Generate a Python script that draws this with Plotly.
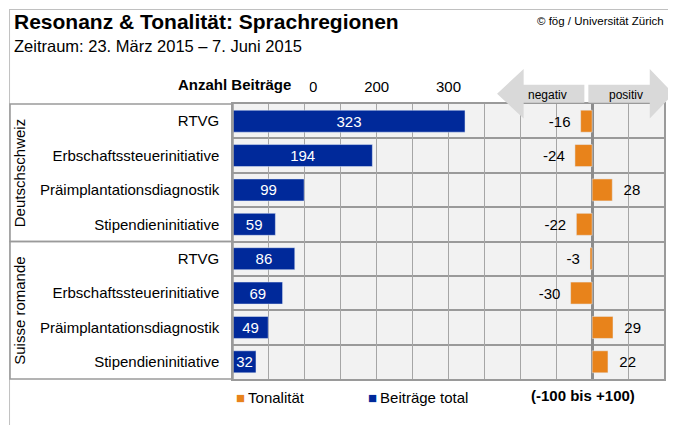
import plotly.graph_objects as go

# ---------------- data ----------------
regions = ["Deutschschweiz", "Suisse romande"]
topics = ["RTVG", "Erbschaftssteuerinitiative", "Präimplantationsdiagnostik", "Stipendieninitiative"]
beitraege_deutschschweiz = [323, 194, 99, 59]
beitraege_romandie = [86, 69, 49, 32]
tonalitaet_deutschschweiz = [-16, -24, 28, -22]
tonalitaet_romandie = [-3, -30, 29, 22]
count_tick_labels = [100, 200, 300]

# ---------------- derived ----------------
categories = topics + topics
counts = beitraege_deutschschweiz + beitraege_romandie
tone = tonalitaet_deutschschweiz + tonalitaet_romandie
rows = list(range(len(categories)))
tone_text = [(f"{v}\u00a0\u2009" if v < 0 else f"\u00a0\u00a0{v}") for v in tone]

FONT = "Liberation Sans, Arial, sans-serif"
BLUE = "#00299a"
ORANGE = "#e8831b"
GRID = "#a6a6a6"

# page offset (browser body margin)
OFF = 8
PAGE_W, PAGE_H = 676, 425
W, H = PAGE_W - OFF, PAGE_H - OFF
# plot area in page pixels
PL, PR, PT, PB = 233, 666, 104, 379
L, R, T, B = PL - OFF, PR - OFF, PT - OFF, PB - OFF


def px_x(p):  # page pixel -> paper x
    return (p - PL) / (PR - PL)


def px_y(p):  # page pixel -> paper y
    return (PB - p) / (PB - PT)


fig = go.Figure()
fig.add_bar(
    name="Beiträge total", x=counts, y=rows, orientation="h",
    xaxis="x", yaxis="y", marker=dict(color=BLUE), width=0.64,
    text=counts, textposition="inside", insidetextanchor="middle", textangle=0,
    textfont=dict(color="white", size=15, family=FONT),
    showlegend=False, cliponaxis=False, hoverinfo="x+y",
)
fig.add_bar(
    name="Tonalität", x=tone, y=rows, orientation="h",
    xaxis="x2", yaxis="y", marker=dict(color=ORANGE), width=0.64,
    text=tone_text, textposition="outside", textangle=0,
    textfont=dict(color="black", size=15, family=FONT),
    showlegend=False, cliponaxis=False, hoverinfo="x+y",
)

tick_vals = list(range(0, 601, 50))
tick_text = [str(v) if v in count_tick_labels else "" for v in tick_vals]

shapes = []
# outer frame lines (left and top edge of the white panel)
shapes.append(dict(type="line", xref="paper", yref="paper", layer="below",
                   x0=px_x(8.5), x1=px_x(8.5), y0=px_y(9), y1=px_y(PAGE_H),
                   line=dict(color="#c0c0c0", width=1)))
shapes.append(dict(type="line", xref="paper", yref="paper", layer="below",
                   x0=px_x(8.5), x1=px_x(PAGE_W), y0=px_y(9.5), y1=px_y(9.5),
                   line=dict(color="#c0c0c0", width=1)))
# left label boxes
mid = (PT + PB) / 2
for y0, y1 in [(PT, mid), (mid, PB)]:
    shapes.append(dict(type="rect", xref="paper", yref="paper", layer="above",
                       x0=px_x(9), x1=px_x(PL), y0=px_y(y0), y1=px_y(y1),
                       fillcolor="rgba(0,0,0,0)", line=dict(color="#9a9a9a", width=1.5)))

# arrows
ARROW = "#d9d9d9"
ytip, yht, yhb, ybt, ybb = 93.7, 69, 118.5, 84.7, 102.7


def path(points):
    return "M " + " L ".join(f"{px_x(x):.5f},{px_y(y):.5f}" for x, y in points) + " Z"


left_arrow = [(498.3, ytip), (525, yht), (525, ybt), (586, ybt), (586, ybb), (525, ybb), (525, yhb)]
right_arrow = [(590, ybt), (651.7, ybt), (651.7, yht), (675.5, ytip), (651.7, yhb), (651.7, ybb), (590, ybb)]
for pts in (left_arrow, right_arrow):
    shapes.append(dict(type="path", xref="paper", yref="paper", layer="above",
                       path=path(pts), fillcolor=ARROW, line=dict(width=0)))

ann = []


def add_text(text, x, y, size, xanchor="left", bold=False, **kw):
    if bold:
        text = f"<b>{text}</b>"
    ann.append(dict(text=text, x=px_x(x), y=px_y(y), xref="paper", yref="paper",
                    xanchor=xanchor, yanchor="middle", showarrow=False,
                    font=dict(family=FONT, size=size, color="black"), **kw))


add_text("Resonanz &amp; Tonalität: Sprachregionen", 11, 21, 21, bold=True)
add_text("Zeitraum: 23. März 2015 – 7. Juni 2015", 11, 46, 16.5)
add_text("© fög / Universität Zürich", 668, 21, 11.5, xanchor="right")
add_text("Anzahl Beiträge\u00a0\u00a0\u00a0\u00a0", 310, 84, 15, xanchor="right", bold=True,
         bgcolor="white", borderpad=1)
add_text("negativ", 548.5, 95, 12, xanchor="center")
add_text("positiv", 627.5, 95, 12, xanchor="center")
add_text(f"<span style='color:{ORANGE}'>■</span>\u2009Tonalität", 234, 397, 15)
add_text(f"<span style='color:{BLUE}'>■</span>\u2009Beiträge total", 367, 397, 15)
add_text("(-100 bis +100)", 585, 395, 15, xanchor="center", bold=True)

# group labels (rotated)
n = len(topics)
for i, reg in enumerate(regions):
    ann.append(dict(text=reg, x=px_x(18.5), xref="paper", y=(i * n + (n - 1) / 2), yref="y",
                    textangle=-90, showarrow=False, xanchor="center", yanchor="middle",
                    font=dict(family=FONT, size=15, color="black")))

fig.update_layout(
    width=W, height=H,
    margin=dict(l=L, r=W - R, t=T, b=H - B, pad=0),
    paper_bgcolor="white", plot_bgcolor="#f2f2f2",
    barmode="overlay",
    font=dict(family=FONT, size=15, color="black"),
    uniformtext=dict(mode="show", minsize=15),
    xaxis=dict(range=[0, 600], side="top", tickmode="array", tickvals=tick_vals, ticktext=tick_text,
               showgrid=True, gridcolor=GRID, gridwidth=1, zeroline=False,
               showline=True, mirror=True, linecolor="#9a9a9a", linewidth=1.5,
               ticks="", ticklabelstandoff=4, tickfont=dict(size=15, color="black"), fixedrange=True),
    xaxis2=dict(range=[-500, 100], overlaying="x", side="top", showgrid=False,
                showticklabels=False, ticks="", zeroline=True, zerolinecolor="#8c8c8c",
                zerolinewidth=3, fixedrange=True),
    yaxis=dict(range=[len(rows) - 0.5, -0.5], tickmode="array", tickvals=rows, ticktext=categories,
               showgrid=False, zeroline=False, ticks="", ticklabelstandoff=9,
               tickfont=dict(size=15, color="black"),
               showline=True, mirror=True, linecolor="#9a9a9a", linewidth=1.5,
               minor=dict(tickmode="array", tickvals=[r + 0.5 for r in rows[:-1]],
                          showgrid=True, gridcolor="#9a9a9a", gridwidth=1.5, ticks=""),
               fixedrange=True),
    shapes=shapes,
    annotations=ann,
    showlegend=False,
)

fig.write_html("out.html")
